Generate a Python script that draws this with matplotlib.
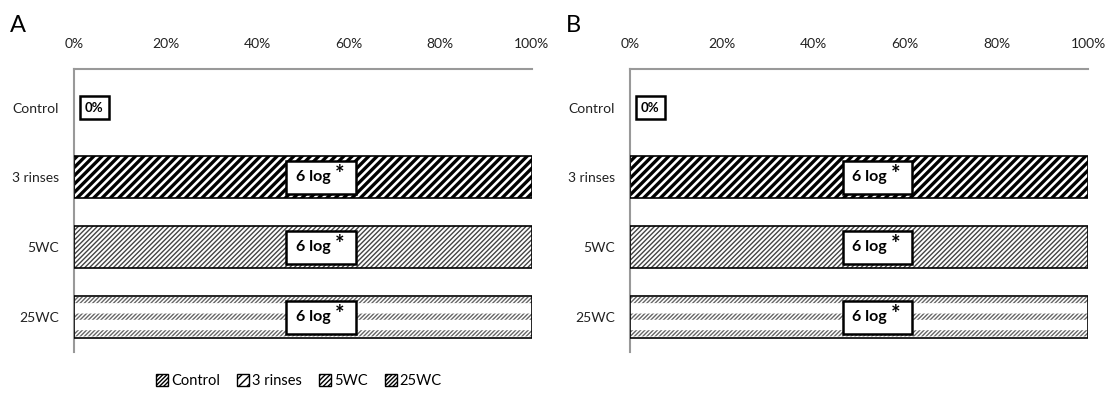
import numpy as np
import matplotlib.pyplot as plt
from matplotlib.patches import Patch

plt.rcParams['font.family'] = ['Lato', 'DejaVu Sans']

categories = ["Control", "3 rinses", "5WC", "25WC"]
values_a = [0, 100, 100, 100]
values_b = [0, 100, 100, 100]
labels_a = ["0%", "6 log", "6 log", "6 log"]
labels_b = ["0%", "6 log", "6 log", "6 log"]
star = [False, True, True, True]
xticks = [0, 20, 40, 60, 80, 100]

hatches = ["////////", "////", "///////", "////////"]
hatch_cols = ["black", "black", "#444444", "#666666"]
hatch_lw = [1.0, 2.4, 1.0, 1.0]


def set_hlw(patches, lw):
    for p in patches:
        try:
            p.set_hatch_linewidth(lw)
        except AttributeError:
            pass


def panel(ax, values, labels, letter):
    y = np.arange(len(categories))
    for i, (cat, v) in enumerate(zip(categories, values)):
        with plt.rc_context({"hatch.linewidth": hatch_lw[i]}):
            b = ax.barh(i, v, height=0.6, color="white", edgecolor=hatch_cols[i],
                        hatch=hatches[i], linewidth=0, zorder=2)
            set_hlw(b, hatch_lw[i])
        if i == 3:
            # white horizontal bands over the light hatch
            with plt.rc_context({"hatch.linewidth": 7.5}):
                b = ax.barh(i, v, height=0.6, color="none", edgecolor="white",
                            hatch="-", linewidth=0, zorder=3)
                set_hlw(b, 7.5)
        if v > 0:
            ax.barh(i, v, height=0.6, color="none", edgecolor="black",
                    linewidth=1.2, zorder=4)

    for i, v in enumerate(values):
        if star[i]:
            xpos = v * 0.54
            ax.text(xpos, y[i], labels[i] + "    ", ha="center", va="center",
                    fontsize=11.5, fontweight="bold", zorder=6,
                    bbox=dict(boxstyle="square,pad=0.6", fc="white", ec="black", lw=1.8))
            ax.text(xpos + 4.0, y[i] - 0.04, "*", ha="center", va="center",
                    fontsize=16, fontweight="bold", zorder=7)
        else:
            ax.text(4.4, y[i], labels[i], ha="center", va="center",
                    fontsize=9.5, fontweight="bold", zorder=6,
                    bbox=dict(boxstyle="square,pad=0.4", fc="white", ec="black", lw=1.8))

    ax.set_xlim(0, 100)
    ax.set_ylim(3.5, -0.55)
    ax.set_yticks(y)
    ax.set_yticklabels(categories, fontsize=10, color="#222222")
    ax.set_xticks(xticks)
    ax.set_xticklabels([f"{t}%" for t in xticks], fontsize=10, color="#222222")
    ax.xaxis.tick_top()
    ax.tick_params(length=0, pad=14)
    ax.tick_params(axis="y", pad=11)
    for s in ["right", "bottom"]:
        ax.spines[s].set_visible(False)
    for s in ["top", "left"]:
        ax.spines[s].set_color("#999999")
        ax.spines[s].set_linewidth(1.5)
    ax.text(-0.14, 1.155, letter, transform=ax.transAxes, fontsize=17,
            ha="left", va="center")


fig = plt.figure(figsize=(11.08, 3.97), dpi=100)
ax_a = fig.add_axes([0.0668, 0.113, 0.413, 0.713])
ax_b = fig.add_axes([0.5686, 0.113, 0.4135, 0.713])
panel(ax_a, values_a, labels_a, "A")
panel(ax_b, values_b, labels_b, "B")

handles = [Patch(facecolor="white", edgecolor="black", hatch=hatches[i], label=c)
           for i, c in enumerate(categories)]
fig.legend(handles=handles, loc="center", bbox_to_anchor=(0.27, 0.04), ncol=4,
           frameon=False, fontsize=10.5, handlelength=0.8, handleheight=0.8,
           handletextpad=0.2, columnspacing=1.2)

fig.savefig("out.png", dpi=100)
